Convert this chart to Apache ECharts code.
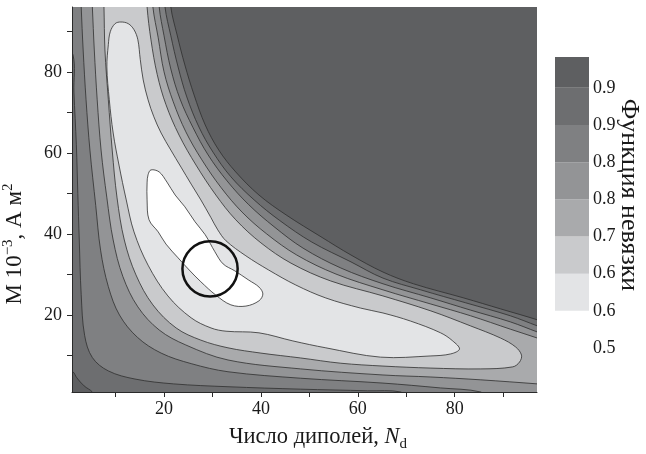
<!DOCTYPE html>
<html>
<head>
<meta charset="utf-8">
<script src="https://cdn.jsdelivr.net/npm/echarts@6/dist/echarts.min.js"></script>
<style>
  html, body { margin: 0; padding: 0; background: #ffffff; }
  #chart { width: 646px; height: 454px; }
</style>
</head>
<body>
<div id="chart"></div>
<script>
// Misfit-function contour map: number of dipoles vs. dipole moment.
const FONT = '"Liberation Serif", "Times New Roman", "DejaVu Serif", serif';

// Axis ticks and labels
const xTickValues = [10, 20, 30, 40, 50, 60, 70, 80, 90];
const xLabelValues = [20, 40, 60, 80];
const yTickValues = [10, 20, 30, 40, 50, 60, 70, 80, 90];
const yLabelValues = [20, 40, 60, 80];

// Colour bar: band fills (low to high) and the boundary labels
const bandColors = ['#ffffff', '#e3e4e6', '#c9cacc', '#a9aaac', '#939496', '#7f8082', '#6d6e70', '#5e5f61'];
const bandHeights = [1, 1, 1, 1, 1, 1, 1, 0.83];
const colorbarLabels = ['0.5', '0.6', '0.6', '0.7', '0.8', '0.8', '0.9', '0.9'];

// Sub-level regions of the misfit, [N_d, M] outlines (highest level first)
const contour7 = [[21.2,102.7],[21.4,96.0],[22.7,89.1],[24.3,81.7],[26.2,74.3],[28.5,66.9],[31.3,60.7],[34.8,55.3],[39.6,49.6],[45.2,44.7],[52.4,39.3],[58.6,34.8],[65.2,30.6],[71.5,27.7],[81.9,24.2],[89.5,21.5],[97.1,18.8],[101.9,16.8],[101.9,-5.9],[6.0,-1.0],[5.2,1.0],[3.5,2.5],[2.0,4.5],[1.2,6.0],[-1.2,8.0],[-1.2,102.7]];
const contour6 = [[20.0,102.7],[20.2,96.0],[21.4,88.9],[22.9,81.2],[24.7,73.8],[27.2,66.4],[30.1,60.2],[33.8,54.1],[38.6,48.4],[43.9,43.3],[50.5,38.0],[58.6,33.1],[65.2,29.1],[73.0,26.2],[82.3,23.0],[91.5,19.8],[97.1,17.3],[101.9,15.3],[101.9,-5.9],[70.9,-1.0],[68.9,1.0],[62.0,1.3],[48.2,1.7],[33.2,2.3],[22.0,3.0],[14.0,4.2],[8.5,6.2],[5.2,9.5],[3.6,15.0],[2.9,25.0],[2.5,38.5],[2.2,50.0],[1.9,62.0],[1.4,75.0],[1.2,84.2],[-1.2,87.9],[-1.2,102.7]];
const contour5 = [[18.8,102.7],[19.0,96.0],[20.0,88.9],[21.4,80.7],[23.3,73.3],[26.0,66.2],[29.1,59.5],[33.0,53.1],[37.5,47.2],[42.7,41.8],[48.7,36.5],[56.5,31.6],[65.2,27.7],[75.1,24.2],[83.3,21.2],[91.5,18.3],[97.1,15.8],[101.9,13.8],[101.9,-5.9],[87.4,-1.0],[85.4,1.0],[77.1,2.0],[65.2,3.2],[48.2,4.4],[33.2,6.0],[25.6,8.0],[19.4,10.6],[14.5,14.5],[10.8,20.0],[8.5,27.0],[6.9,36.0],[5.9,47.0],[4.7,60.7],[3.9,73.1],[3.3,85.4],[2.9,96.0],[2.7,102.7]];
const contour4 = [[17.5,102.7],[17.7,96.0],[18.8,88.4],[20.0,80.0],[21.9,72.6],[24.5,65.2],[27.8,58.3],[31.8,51.4],[36.1,45.4],[41.2,40.0],[47.4,34.8],[55.5,30.1],[65.2,26.2],[75.1,22.7],[83.3,19.8],[91.5,16.5],[97.1,14.3],[101.9,12.3],[101.9,2.5],[97.1,3.0],[85.4,4.0],[75.1,4.7],[65.2,5.2],[48.2,6.7],[33.2,8.9],[24.5,12.6],[19.0,16.3],[14.6,22.0],[11.5,29.5],[9.5,38.5],[8.2,48.9],[7.0,60.7],[6.2,73.1],[5.6,85.4],[5.2,96.0],[4.9,102.7]];
const contour3 = [[16.3,102.7],[16.5,96.0],[17.3,87.9],[18.6,79.3],[20.4,71.9],[23.1,64.4],[26.6,57.0],[30.7,49.6],[34.8,43.5],[40.0,37.8],[46.2,32.8],[54.4,28.4],[65.2,24.7],[75.1,21.0],[83.3,17.3],[89.5,14.3],[92.6,12.1],[93.8,10.1],[93.4,8.4],[92.0,7.2],[85.4,6.7],[75.1,6.9],[65.2,7.4],[56.5,8.1],[48.2,9.4],[40.0,10.6],[33.2,11.9],[27.6,13.8],[22.5,16.8],[17.7,22.5],[14.2,29.9],[11.8,38.5],[10.3,48.9],[9.3,60.7],[8.5,73.1],[7.8,85.4],[7.6,96.0],[7.4,102.7]];
const contour2 = [[8.5,86.7],[8.9,89.9],[9.9,91.9],[11.1,92.3],[12.6,91.9],[13.8,90.4],[14.6,87.9],[15.1,83.0],[15.7,78.0],[16.7,73.1],[17.9,68.9],[19.4,64.9],[21.4,60.7],[23.5,56.5],[25.6,52.3],[27.6,48.4],[29.7,44.0],[31.1,41.0],[32.8,38.3],[36.9,34.6],[41.6,31.1],[47.2,27.4],[53.4,24.2],[60.6,21.7],[65.2,20.5],[70.9,18.5],[77.1,15.6],[79.6,13.6],[81.0,11.6],[79.2,10.4],[75.1,9.9],[64.7,9.6],[53.4,11.9],[46.6,13.6],[39.6,15.6],[32.8,16.0],[29.7,16.8],[25.6,19.3],[20.8,24.7],[16.7,32.3],[13.8,40.5],[12.2,48.4],[10.7,57.0],[9.5,64.9],[8.7,73.1],[8.2,81.2]];
const contour1 = [[17.3,55.8],[19.0,55.3],[20.6,52.8],[22.3,49.6],[24.3,46.7],[26.4,43.0],[28.5,39.8],[30.5,35.6],[32.2,32.6],[34.6,30.9],[37.5,28.6],[39.6,26.9],[40.4,25.2],[39.6,23.5],[36.9,22.2],[33.8,22.5],[30.7,24.9],[27.6,28.2],[25.2,31.1],[22.9,34.1],[20.4,37.5],[18.8,40.5],[16.9,43.5],[16.5,48.4],[16.5,52.6],[16.7,54.6]];

// Best-fit solution marker: centre [N_d, M] and radius in N_d units
const solutionCenter = [29.5, 31.4];
const solutionRadius = 5.7;

const contours = [contour7, contour6, contour5, contour4, contour3, contour2, contour1];
const contourFills = [bandColors[6], bandColors[5], bandColors[4], bandColors[3], bandColors[2], bandColors[1], bandColors[0]];

const chart = echarts.init(document.getElementById('chart'), null, { renderer: 'canvas' });

const colorbarSeries = bandColors.map((c, i) => ({
  type: 'bar',
  xAxisIndex: 1,
  yAxisIndex: 1,
  stack: 'colorbar',
  barWidth: '100%',
  silent: true,
  data: [bandHeights[i]],
  itemStyle: { color: c }
}));

const option = {
  animation: false,
  backgroundColor: '#ffffff',
  grid: [
    { left: 72, top: 7, width: 465, height: 385, show: true, backgroundColor: bandColors[7], borderWidth: 0 },
    { left: 555, top: 57, width: 34, height: 291, show: false }
  ],
  xAxis: [
    {
      type: 'value', gridIndex: 0, min: 1, max: 97, z: 10,
      axisLine: { show: true, onZero: false, lineStyle: { color: '#2a2a2a', width: 1 } },
      axisTick: { show: true, length: 5, customValues: xTickValues, lineStyle: { color: '#2a2a2a' } },
      axisLabel: { customValues: xLabelValues, fontFamily: FONT, fontSize: 18, color: '#1a1a1a', margin: 8 },
      splitLine: { show: false }
    },
    { type: 'category', gridIndex: 1, data: ['bar'], show: false }
  ],
  yAxis: [
    {
      type: 'value', gridIndex: 0, min: 1, max: 96, z: 10,
      axisLine: { show: true, onZero: false, lineStyle: { color: '#2a2a2a', width: 1 } },
      axisTick: { show: true, length: 5, customValues: yTickValues, lineStyle: { color: '#2a2a2a' } },
      axisLabel: { customValues: yLabelValues, fontFamily: FONT, fontSize: 18, color: '#1a1a1a', margin: 10 },
      splitLine: { show: false }
    },
    {
      type: 'value', gridIndex: 1, min: 0, max: 7.83, position: 'right',
      axisLine: { show: false }, axisTick: { show: false }, splitLine: { show: false },
      axisLabel: {
        customValues: [0, 1, 2, 3, 4, 5, 6, 7],
        formatter: v => colorbarLabels[Math.round(v)],
        fontFamily: FONT, fontSize: 18, color: '#1a1a1a', margin: 4
      }
    }
  ],
  graphic: [
    {
      type: 'text', x: 318, y: 437,
      style: {
        text: 'Число диполей, {i|N}{s|d}',
        fontFamily: FONT, fontSize: 22.5, fill: '#1a1a1a', align: 'center', verticalAlign: 'middle', lineHeight: 30,
        rich: {
          i: { fontFamily: FONT, fontSize: 22.5, fontStyle: 'italic', fill: '#1a1a1a', lineHeight: 30 },
          s: { fontFamily: FONT, fontSize: 15, fill: '#1a1a1a', lineHeight: 17, verticalAlign: 'bottom' }
        }
      }
    },
    {
      type: 'text', x: 15, y: 244, rotation: Math.PI / 2,
      style: {
        text: 'M 10{u|−3}, A м{u|2}',
        fontFamily: FONT, fontSize: 23, fill: '#1a1a1a', align: 'center', verticalAlign: 'middle', lineHeight: 28,
        rich: {
          u: { fontFamily: FONT, fontSize: 15, fill: '#1a1a1a', lineHeight: 17, verticalAlign: 'top' }
        }
      }
    },
    {
      type: 'text', x: 629, y: 195, rotation: -Math.PI / 2,
      style: {
        text: 'Функция невязки',
        fontFamily: FONT, fontSize: 26, fill: '#1a1a1a', align: 'center', verticalAlign: 'middle'
      }
    }
  ],
  series: [
    {
      type: 'custom',
      coordinateSystem: 'cartesian2d',
      xAxisIndex: 0, yAxisIndex: 0,
      clip: true,
      silent: true,
      z: 2,
      data: contours.map((c, i) => [i]),
      renderItem: function (params, api) {
        const idx = params.dataIndex;
        const pts = contours[idx].map(p => api.coord(p));
        return {
          type: 'polygon',
          shape: { points: pts, smooth: 0.35 },
          style: { fill: contourFills[idx], stroke: '#2e2e2e', lineWidth: 0.8 }
        };
      }
    },
    {
      type: 'custom',
      coordinateSystem: 'cartesian2d',
      xAxisIndex: 0, yAxisIndex: 0,
      clip: true,
      silent: true,
      z: 3,
      data: [solutionCenter],
      renderItem: function (params, api) {
        const c = api.coord([api.value(0), api.value(1)]);
        const r = api.size([solutionRadius, 0])[0];
        return {
          type: 'circle',
          shape: { cx: c[0], cy: c[1], r: r },
          style: { fill: 'none', stroke: '#111111', lineWidth: 2.5 }
        };
      }
    }
  ].concat(colorbarSeries)
};

chart.setOption(option);
</script>
</body>
</html>
